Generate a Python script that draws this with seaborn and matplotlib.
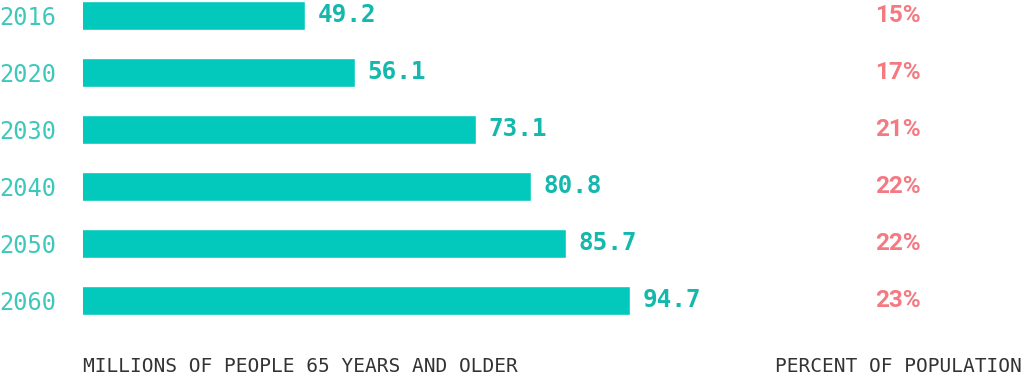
import matplotlib
matplotlib.use("Agg")
import matplotlib.pyplot as plt
import matplotlib.transforms as mtransforms
import pandas as pd
import seaborn as sns

years = ["2016", "2020", "2030", "2040", "2050", "2060"]
millions = [49.2, 56.1, 73.1, 80.8, 85.7, 94.7]
percent = ["15%", "17%", "21%", "22%", "22%", "23%"]

bar_color = "#03c9bd"
value_color = "#14b8ac"
year_color = "#3ec8bc"
pct_color = "#f47a82"
note_color = "#333333"

sns.set_style("white")
plt.rcParams["font.family"] = ["DejaVu Sans Mono", "DejaVu Sans"]

df = pd.DataFrame({"year": years, "millions": millions})

fig = plt.figure(figsize=(10.24, 3.81), dpi=100)
ax = fig.add_axes([83 / 1024, 0, 1 - 83 / 1024, 1])

sns.barplot(data=df, x="millions", y="year", orient="h", color=bar_color,
            saturation=1, width=0.51, ax=ax)

# axis is cut at 18 so the bar lengths sit close to the original drawing
ax.set_xlim(18, 150)
ax.set_ylim(6.42, -0.272)
sns.despine(ax=ax, left=True, bottom=True)
ax.set_xticks([])
ax.set_xlabel("")
ax.set_ylabel("")
ax.tick_params(axis="y", length=0, pad=19, labelsize=17, labelcolor=year_color)

ax.bar_label(ax.containers[0], fmt="%.1f", padding=9, fontsize=17.5,
             fontweight="bold", color=value_color)

trans = mtransforms.blended_transform_factory(ax.transAxes, ax.transData)
for i, p in enumerate(percent):
    ax.text(0.866, i, p, transform=trans, ha="center", va="center",
            fontsize=17.5, fontweight="bold", color=pct_color, family="Roboto")

fig.text(83 / 1024, 1 - 367 / 381, "MILLIONS OF PEOPLE 65 YEARS AND OLDER",
         ha="left", va="center", fontsize=14, color=note_color)
fig.text(1022 / 1024, 1 - 367 / 381, "PERCENT OF POPULATION",
         ha="right", va="center", fontsize=14, color=note_color)

fig.savefig("out.png", dpi=100)
